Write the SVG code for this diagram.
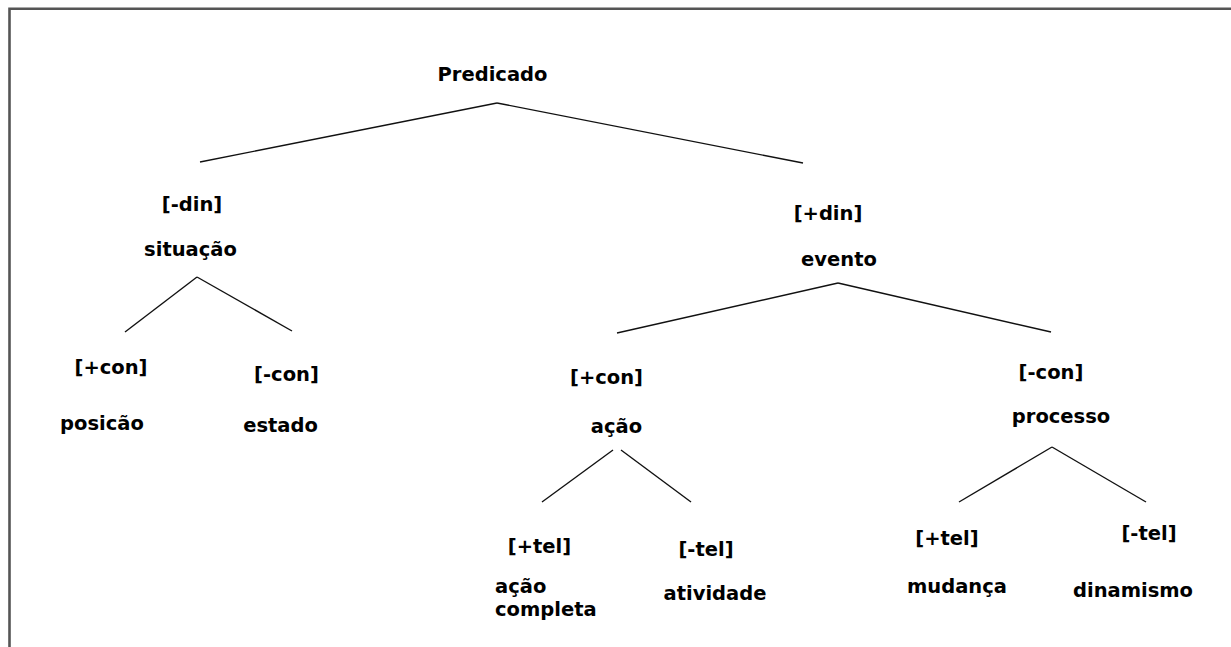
<svg xmlns="http://www.w3.org/2000/svg" width="1231" height="647" viewBox="0 0 1231 647">
<style>
.t{font-family:"DejaVu Sans",Verdana,sans-serif;font-weight:bold;font-size:19.5px;fill:#000;text-anchor:middle}
.s{text-anchor:start}
.c line{stroke:#111;stroke-width:1.4;fill:none}
</style>
<rect width="1231" height="647" fill="#fff"/>
<path d="M9.5,647 V8.7 H1231" fill="none" stroke="#555" stroke-width="2.6"/>
<g class="c" id="connectors">
<line x1="497" y1="103" x2="200" y2="162"/>
<line x1="497" y1="103" x2="803" y2="163"/>
<line x1="197" y1="277" x2="125" y2="332"/>
<line x1="197" y1="277" x2="292" y2="331"/>
<line x1="838" y1="283" x2="617" y2="333"/>
<line x1="838" y1="283" x2="1051" y2="332"/>
<line x1="613" y1="450" x2="542" y2="502"/>
<line x1="621" y1="450" x2="691" y2="502"/>
<line x1="1052" y1="447" x2="959" y2="502"/>
<line x1="1052" y1="447" x2="1146" y2="502"/>
</g>
<g id="predicado"><text class="t" x="492.5" y="81">Predicado</text></g>
<g id="situacao"><text class="t" x="192" y="211">[-din]</text><text class="t" x="190.5" y="256">situação</text></g>
<g id="posicao"><text class="t" x="111" y="374">[+con]</text><text class="t" x="102" y="430">posicão</text></g>
<g id="estado"><text class="t" x="286.5" y="381">[-con]</text><text class="t" x="280.5" y="432">estado</text></g>
<g id="evento"><text class="t" x="828" y="220">[+din]</text><text class="t" x="839" y="266">evento</text></g>
<g id="acao"><text class="t" x="606.5" y="384">[+con]</text><text class="t" x="616.5" y="433">ação</text></g>
<g id="processo"><text class="t" x="1051" y="379">[-con]</text><text class="t" x="1061" y="423">processo</text></g>
<g id="acao-completa"><text class="t" x="539.5" y="553">[+tel]</text><text class="t s" x="495" y="593">ação</text><text class="t s" x="495" y="616">completa</text></g>
<g id="atividade"><text class="t" x="706" y="556">[-tel]</text><text class="t" x="715" y="600">atividade</text></g>
<g id="mudanca"><text class="t" x="947" y="545">[+tel]</text><text class="t" x="957" y="593">mudança</text></g>
<g id="dinamismo"><text class="t" x="1149" y="540">[-tel]</text><text class="t" x="1133" y="597">dinamismo</text></g>
</svg>
